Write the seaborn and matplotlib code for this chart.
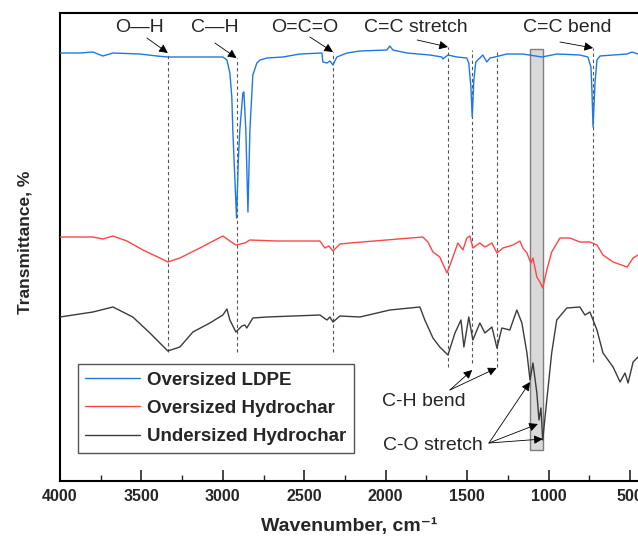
import pandas as pd
import seaborn as sns
import matplotlib.pyplot as plt
from matplotlib.patches import Rectangle

# spectra (wavenumber in cm-1, transmittance in arbitrary offset units)
wn_ldpe = [4000, 3878, 3798, 3737, 3675, 3510, 3405, 3338, 3141, 3000, 2975, 2957, 2945, 2939, 2926,
           2916, 2905, 2896, 2877, 2871, 2859, 2846, 2834, 2816, 2791, 2772, 2729, 2631, 2527, 2392,
           2386, 2361, 2343, 2324, 2300, 2238, 2158, 1993, 1975, 1956, 1870, 1729, 1655, 1649, 1618,
           1563, 1502, 1490, 1477, 1469, 1459, 1447, 1422, 1404, 1379, 1360, 1330, 1256, 1158, 1041,
           949, 808, 759, 740, 734, 727, 715, 703, 684, 604, 518, 488, 451]
t_ldpe = [428, 428, 429, 425, 428, 427, 425, 424, 424, 424, 421, 408, 384, 351, 301,
          263, 321, 351, 388, 389, 351, 269, 351, 406, 418, 421, 423, 424, 427, 428,
          419, 418, 420, 416, 424, 428, 430, 431, 435, 431, 428, 426, 424, 422, 426,
          424, 423, 418, 394, 364, 401, 419, 423, 426, 419, 423, 424, 427, 427, 424,
          427, 426, 424, 414, 391, 354, 398, 421, 425, 426, 427, 429, 427]

wn_over = [4000, 3798, 3737, 3675, 3589, 3491, 3387, 3338, 3264, 3141, 3000, 2957, 2920, 2865, 2834,
           2668, 2404, 2374, 2349, 2324, 2281, 2220, 1772, 1741, 1710, 1668, 1624, 1594, 1557, 1526,
           1502, 1483, 1465, 1422, 1391, 1348, 1317, 1280, 1219, 1176, 1158, 1133, 1109, 1096, 1072,
           1053, 1036, 1011, 981, 930, 869, 808, 746, 703, 666, 604, 518, 481, 451]
t_over = [244, 244, 242, 245, 240, 231, 223, 219, 223, 233, 245, 240, 236, 238, 241,
          240, 240, 233, 235, 230, 237, 238, 244, 239, 229, 224, 208, 221, 238, 231,
          243, 245, 233, 238, 234, 238, 228, 233, 236, 240, 233, 228, 218, 223, 204,
          199, 193, 211, 229, 243, 243, 239, 239, 236, 226, 219, 214, 223, 226]

wn_under = [4000, 3798, 3675, 3553, 3448, 3338, 3264, 3184, 3080, 3000, 2975, 2957, 2920, 2883, 2865,
            2853, 2816, 2729, 2404, 2361, 2343, 2324, 2281, 2158, 1975, 1790, 1760, 1710, 1668, 1618,
            1575, 1538, 1520, 1490, 1465, 1422, 1391, 1348, 1317, 1287, 1238, 1195, 1164, 1133, 1114,
            1096, 1072, 1059, 1047, 1036, 1011, 981, 950, 888, 808, 777, 746, 703, 666, 604,
            561, 531, 512, 481, 451]
t_under = [164, 169, 174, 164, 148, 130, 134, 149, 158, 166, 172, 161, 149, 155, 156,
           153, 163, 164, 166, 161, 164, 159, 165, 164, 171, 174, 161, 143, 134, 126,
           148, 161, 134, 164, 141, 158, 148, 154, 133, 153, 151, 171, 158, 128, 101,
           118, 88, 61, 73, 41, 81, 128, 161, 173, 174, 166, 169, 151, 128, 114,
           99, 108, 98, 119, 124]

series_names = ["Oversized LDPE", "Oversized Hydrochar", "Undersized Hydrochar"]
series_colors = ["#1f78e0", "#ff4646", "#3c3c3c"]

# band marker lines
band_wn = [3338, 2916, 2322, 1618, 1469, 1319, 727]
band_top = [428, 423, 429, 434, 431, 431, 433]
band_bottom = [129, 129, 129, 114, 118, 114, 119]

sns.set_style("white")
plt.rcParams["font.family"] = ["Liberation Sans", "DejaVu Sans"]

df = pd.concat([
    pd.DataFrame({"wn": wn_ldpe, "t": t_ldpe, "sample": series_names[0]}),
    pd.DataFrame({"wn": wn_over, "t": t_over, "sample": series_names[1]}),
    pd.DataFrame({"wn": wn_under, "t": t_under, "sample": series_names[2]}),
])

fig = plt.figure(figsize=(6.38, 5.42), dpi=100)
ax = fig.add_axes([60 / 638, 61 / 542, 578 / 638, 468 / 542])

# grey highlight of the C-O region
ax.add_patch(Rectangle((1036, 31), 1114 - 1036, 401, facecolor="#d9d9d9",
                       edgecolor="#7f7f7f", lw=1, zorder=1))

sns.lineplot(data=df, x="wn", y="t", hue="sample", palette=dict(zip(series_names, series_colors)),
             estimator=None, sort=False, lw=1.0, ax=ax, zorder=3)

ax.vlines(band_wn, band_bottom, band_top, colors="#555555", linestyles=(0, (3, 2.5)), lw=0.8, zorder=2)

arrow = dict(arrowstyle="-|>", color="black", lw=0.6, mutation_scale=13, shrinkA=0, shrinkB=0)

# top labels
top_labels = [("O\u2014H", 3509, 3466, 443, 3338, 428),
              ("C\u2014H", 3049, 3049, 438, 2916, 423),
              ("O=C=O", 2496, 2466, 444, 2324, 429),
              ("C=C stretch", 1813, 1807, 441, 1618, 434),
              ("C=C bend", 887, 930, 439, 727, 433)]
for txt, tx, ax0, ay0, hx, hy in top_labels:
    ax.text(tx, 453, txt, ha="center", va="center", fontsize=14)
    ax.annotate("", xy=(hx, hy), xytext=(ax0, ay0), arrowprops=arrow)

ax.text(1764, 79, "C-H bend", ha="center", va="center", fontsize=14)
for hx, hy in [(1469, 111), (1319, 113)]:
    ax.annotate("", xy=(hx, hy), xytext=(1606, 91), arrowprops=arrow)

ax.text(1709, 36, "C-O stretch", ha="center", va="center", fontsize=14)
for hx, hy in [(1114, 99), (1066, 57), (1036, 42)]:
    ax.annotate("", xy=(hx, hy), xytext=(1366, 38), arrowprops=arrow)

ax.set_xlim(4000, 451)
ax.set_ylim(0, 468)
ax.set_xticks([4000, 3500, 3000, 2500, 2000, 1500, 1000, 500])
ax.set_xticks([3750, 3250, 2750, 2250, 1750, 1250, 750], minor=True)
ax.set_yticks([])
ax.tick_params(axis="x", which="major", direction="in", length=8, width=1.2, bottom=True,
               labelsize=11.5, pad=6)
ax.tick_params(axis="x", which="minor", direction="in", length=4, width=1.0, bottom=True)
for lab in ax.get_xticklabels():
    lab.set_fontweight("bold")

for side in ["left", "bottom", "top"]:
    ax.spines[side].set_color("black")
    ax.spines[side].set_linewidth(1.5)
ax.spines["right"].set_visible(False)

ax.set_xlabel("Wavenumber, cm\u207b\u00b9", fontsize=14, fontweight="bold")
ax.xaxis.set_label_coords(0.5, -0.078)
ax.set_ylabel("Transmittance, %", fontsize=12.5, fontweight="bold")
ax.yaxis.set_label_coords(-0.047, 0.51)

handles, labels = ax.get_legend_handles_labels()
leg = ax.legend(handles, labels, loc="lower left", bbox_to_anchor=(0.031, 0.06), frameon=True,
                fancybox=False, edgecolor="#555555", framealpha=1, fontsize=13.5, handlelength=2.9,
                labelspacing=0.6, borderpad=0.4, handletextpad=0.4, borderaxespad=0)
for t in leg.get_texts():
    t.set_fontweight("bold")
for line in leg.get_lines():
    line.set_linewidth(1.0)

fig.savefig("out.png", dpi=100)
